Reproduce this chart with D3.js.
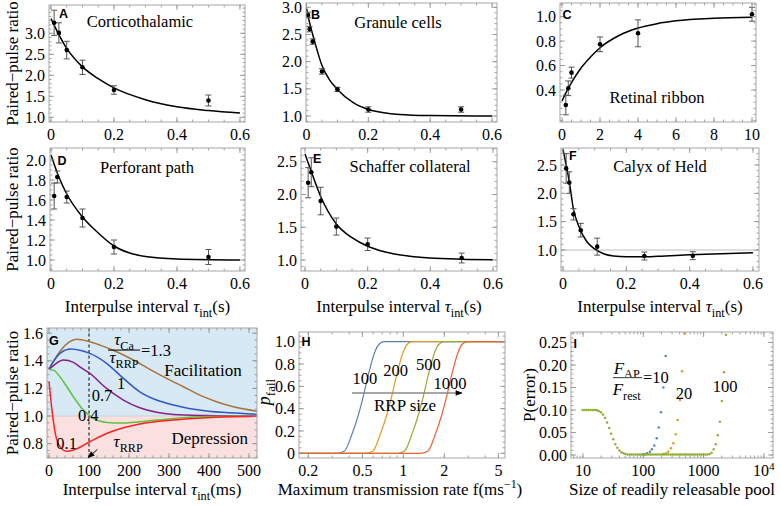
<!DOCTYPE html>
<html><head><meta charset="utf-8">
<script src="https://cdn.jsdelivr.net/npm/d3@7/dist/d3.min.js"></script>
<style>
html,body{margin:0;padding:0;background:#fff;}
svg text{font-family:"Liberation Serif","Times New Roman",serif;fill:#000;}
svg text.pl{font-family:"Liberation Sans",Arial,sans-serif;font-weight:bold;font-size:12.5px;}
</style></head><body>
<script>
// ================= DATA =================
// tick values / labels
const ppXTicks = [0, 0.2, 0.4, 0.6];
const ppXLabels = ["0", "0.2", "0.4", "0.6"];
const aYTicks = [1.0, 1.5, 2.0, 2.5, 3.0];
const bYTicks = [1.0, 1.5, 2.0, 2.5, 3.0];
const cXTicks = [0, 2, 4, 6, 8, 10];
const cYTicks = [0.4, 0.6, 0.8, 1.0];
const dYTicks = [1.0, 1.2, 1.4, 1.6, 1.8, 2.0];
const eYTicks = [1.0, 1.5, 2.0, 2.5];
const fYTicks = [1.0, 1.5, 2.0, 2.5];
const gXTicks = [0, 100, 200, 300, 400, 500];
const gYTicks = [0.8, 1.0, 1.2, 1.4, 1.6];
const hXTicks = [0.2, 0.5, 1, 2, 5];
const hXLabels = ["0.2", "0.5", "1", "2", "5"];
const hYTicks = [0, 0.2, 0.4, 0.6, 0.8, 1.0];
const hYLabels = ["0", "0.2", "0.4", "0.6", "0.8", "1.0"];
const iXTicks = [10, 100, 1000, 10000];
const iXLabels = ["10", "100", "1000", "10^4"];
const iYTicks = [0, 0.05, 0.10, 0.15, 0.20, 0.25];

// A: Corticothalamic
const A_x = [0.01, 0.025, 0.05, 0.1, 0.2, 0.5];
const A_y = [3.25, 3.01, 2.60, 2.19, 1.65, 1.40];
const A_e = [0.3, 0.24, 0.21, 0.17, 0.1, 0.13];
const A_fx = [0, 0.025, 0.05, 0.1, 0.15, 0.2, 0.3, 0.4, 0.5, 0.6];
const A_fy = [3.35, 2.97, 2.64, 2.2, 1.92, 1.70, 1.42, 1.25, 1.16, 1.10];
// B: Granule cells
const B_x = [0.005, 0.01, 0.02, 0.05, 0.1, 0.2, 0.5];
const B_y = [2.86, 2.60, 2.37, 1.82, 1.49, 1.12, 1.12];
const B_e = [0.05, 0.05, 0.05, 0.05, 0.04, 0.05, 0.05];
const B_fx = [0, 0.01, 0.025, 0.05, 0.075, 0.1, 0.15, 0.2, 0.25, 0.3, 0.4, 0.6];
const B_fy = [2.98, 2.72, 2.4, 1.93, 1.66, 1.49, 1.25, 1.12, 1.06, 1.03, 1.01, 1.0];
// C: Retinal ribbon
const C_x = [0.2, 0.33, 0.5, 2, 4, 10];
const C_y = [0.277, 0.414, 0.542, 0.774, 0.864, 1.02];
const C_e = [0.08, 0.06, 0.045, 0.06, 0.11, 0.057];
const C_fx = [0, 0.25, 0.5, 1, 1.5, 2, 3, 4, 5, 6, 8, 10];
const C_fy = [0.31, 0.39, 0.46, 0.58, 0.67, 0.746, 0.846, 0.907, 0.943, 0.966, 0.987, 0.995];
// D: Perforant path
const D_x = [0.01, 0.02, 0.05, 0.1, 0.2, 0.5];
const D_y = [1.64, 1.83, 1.63, 1.42, 1.13, 1.03];
const D_e = [0.13, 0.06, 0.06, 0.09, 0.07, 0.075];
const D_fx = [0, 0.025, 0.05, 0.1, 0.15, 0.2, 0.25, 0.3, 0.4, 0.6];
const D_fy = [2.05, 1.83, 1.66, 1.43, 1.27, 1.14, 1.07, 1.035, 1.01, 1.0];
// E: Schaffer collateral
const E_x = [0.01, 0.02, 0.05, 0.1, 0.2, 0.5];
const E_y = [2.18, 2.34, 1.9, 1.51, 1.24, 1.03];
const E_e = [0.23, 0.22, 0.21, 0.13, 0.095, 0.075];
const E_fx = [0, 0.02, 0.05, 0.1, 0.15, 0.2, 0.25, 0.3, 0.4, 0.5, 0.6];
const E_fy = [2.62, 2.35, 1.97, 1.55, 1.34, 1.21, 1.13, 1.08, 1.03, 1.012, 1.005];
// F: Calyx of Held
const F_x = [0.01, 0.02, 0.033, 0.056, 0.108, 0.257, 0.41];
const F_y = [2.44, 2.19, 1.63, 1.35, 1.06, 0.894, 0.90];
const F_e = [0.26, 0.19, 0.1, 0.12, 0.15, 0.07, 0.07];
const F_fx = [0, 0.01, 0.02, 0.033, 0.05, 0.075, 0.1, 0.13, 0.16, 0.2, 0.25, 0.3, 0.4, 0.5, 0.6];
const F_fy = [2.78, 2.5, 2.2, 1.72, 1.42, 1.15, 1.02, 0.93, 0.895, 0.882, 0.882, 0.89, 0.915, 0.935, 0.95];

// G: model PPR curves (interval in ms), tauCa/tauRRP ratios
const G_ratioLabels = ["1.3", "1", "0.7", "0.4", "0.1"];
const G13_t = [0, 10, 27.5, 50, 69, 100, 127.5, 169, 211, 252, 294, 336, 377, 419, 461, 520];
const G13_v = [1.338, 1.39, 1.47, 1.535, 1.556, 1.54, 1.514, 1.466, 1.406, 1.338, 1.273, 1.212, 1.152, 1.104, 1.067, 1.035];
const G10_t = [0, 10, 30, 54, 80, 102, 144, 186, 227, 269, 311, 394, 477, 520];
const G10_v = [1.338, 1.39, 1.46, 1.486, 1.475, 1.454, 1.382, 1.273, 1.176, 1.116, 1.08, 1.036, 1.02, 1.012];
const G07_t = [0, 15, 36, 61, 80, 102, 144, 186, 227, 269, 311, 394, 520];
const G07_v = [1.338, 1.375, 1.406, 1.389, 1.35, 1.309, 1.2, 1.116, 1.06, 1.027, 1.012, 1.004, 1.0];
const G04_t = [0, 11, 36, 61, 86, 111, 144, 186, 227, 311, 394, 520];
const G04_v = [1.338, 1.333, 1.249, 1.14, 1.043, 0.983, 0.954, 0.950, 0.958, 0.983, 0.997, 1.0];
const G01_t = [0, 7, 15, 27.5, 44, 61, 102, 144, 186, 227, 311, 394, 520];
const G01_v = [1.25, 1.056, 0.886, 0.778, 0.745, 0.754, 0.814, 0.874, 0.915, 0.942, 0.971, 0.988, 0.998];
const G_tauRRP = 100;

// H: failure probability vs max transmission rate (ms^-1), RRP sizes
const H_sizes = ["100", "200", "500", "1000"];
const H_f100 = [0.171, 0.33, 0.37, 0.417, 0.467, 0.507, 0.552, 0.618, 0.66, 0.72, 5.59];
const H_f200 = [0.171, 0.534, 0.599, 0.674, 0.755, 0.82, 0.893, 1.0, 1.066, 1.164, 5.59];
const H_f500 = [0.171, 0.911, 1.022, 1.151, 1.289, 1.40, 1.525, 1.707, 1.82, 1.99, 5.59];
const H_f1000 = [0.171, 1.354, 1.518, 1.71, 1.916, 2.08, 2.265, 2.535, 2.70, 2.95, 5.59];
const H_p = [0, 0, 0.02, 0.164, 0.343, 0.507, 0.70, 0.91, 0.975, 1, 1];

// I: P(error) vs RRP size, F_AP/F_rest = 10, 20, 100
const I_N10 = [100, 107, 116, 129, 139, 152, 167, 180, 197, 215, 235];
const I_P10 = [0.001, 0.0015, 0.004, 0.007, 0.013, 0.021, 0.037, 0.061, 0.095, 0.15, 0.22];
const I_N20 = [215, 238, 260, 288, 315, 345, 372, 406, 439, 479];
const I_P20 = [0.002, 0.004, 0.007, 0.015, 0.026, 0.046, 0.078, 0.122, 0.186, 0.27];
const I_N100 = [9.8, 10.6, 11.5, 12.4, 13.4, 14.5, 15.7, 16.9, 18.3, 19.8, 21.4, 23.2, 25.1, 27.1, 29.3, 31.7, 34.3, 37.1, 40.1, 43.4,
  46.9, 50.7, 54.8, 59.3, 64.1, 69.3, 75.0, 81.1, 87.7, 94.8, 103, 111, 120, 130, 140, 152, 164, 177, 192, 207,
  224, 243, 262, 284, 307, 332, 359, 388, 420, 454, 491, 531, 574, 621, 671, 726, 785, 849, 918, 993,
  1074, 1161, 1256, 1358, 1469, 1588, 1718, 1858, 2009, 2173, 2350];
const I_P100 = [0.1, 0.1, 0.1, 0.1, 0.1, 0.1, 0.1, 0.0995, 0.098, 0.095, 0.09, 0.082, 0.072, 0.06, 0.047, 0.035, 0.024, 0.016, 0.01, 0.006,
  0.004, 0.002, 0.001, 0.001, 0.001, 0.001, 0.001, 0.001, 0.001, 0.001, 0.001, 0.001, 0.001, 0.001, 0.001, 0.001, 0.001, 0.001, 0.001, 0.001,
  0.001, 0.001, 0.001, 0.001, 0.001, 0.001, 0.001, 0.001, 0.001, 0.001, 0.001, 0.001, 0.001, 0.001, 0.001, 0.001, 0.001, 0.001, 0.001, 0.001,
  0.001, 0.001, 0.002, 0.005, 0.013, 0.024, 0.044, 0.074, 0.12, 0.184, 0.267];
const I_ratioLabels = ["10", "20", "100"];

// ================= DRAWING =================
const svg = d3.select("body").append("svg").attr("width", 781).attr("height", 506).style("display", "block")
  .attr("font-family", "'Liberation Serif','Times New Roman',serif");
const defs = svg.append("defs");
defs.append("marker").attr("id", "ah").attr("viewBox", "0 0 10 10").attr("refX", 9).attr("refY", 5)
  .attr("markerWidth", 8).attr("markerHeight", 7).attr("markerUnits", "userSpaceOnUse").attr("orient", "auto")
  .append("path").attr("d", "M0,1 L10,5 L0,9 Z").attr("fill", "#000");

let clipN = 0;
function makePanel(f, xd, yd, xlog) {
  const x = (xlog ? d3.scaleLog() : d3.scaleLinear()).domain(xd).range([f[0], f[1]]);
  const y = d3.scaleLinear().domain(yd).range([f[3], f[2]]);
  const id = "cp" + (clipN++);
  defs.append("clipPath").attr("id", id).append("rect")
    .attr("x", f[0]).attr("y", f[2]).attr("width", f[1] - f[0]).attr("height", f[3] - f[2]);
  const g = svg.append("g");
  const plot = g.append("g").attr("clip-path", `url(#${id})`);
  return { x, y, g, plot, f, xd, yd };
}

function rich(parent, x, y, parts, size, anchor, rot) {
  const t = parent.append("text").attr("x", x).attr("y", y).attr("font-size", size)
    .attr("text-anchor", anchor || "middle");
  if (rot) t.attr("transform", `rotate(-90,${x},${y})`);
  let cur = 0;
  parts.forEach(pt => {
    const [s, st] = typeof pt === "string" ? [pt, ""] : pt;
    let off = 0, fs = size;
    if (st.includes("sub")) { off = size * 0.28; fs = size * 0.72; }
    else if (st.includes("sup")) { off = -size * 0.4; fs = size * 0.7; }
    const ts = t.append("tspan").text(s).attr("font-size", fs).attr("dy", off - cur);
    if (st.startsWith("i")) ts.attr("font-style", "italic");
    cur = off;
  });
  return t;
}

function linMinor(d, step) {
  const a = [];
  for (let k = Math.ceil(d[0] / step - 1e-9); k * step <= d[1] + 1e-9; k++) a.push(k * step);
  return a;
}
function logMinor(d) {
  const a = [];
  for (let e = Math.floor(Math.log10(d[0])); e <= Math.ceil(Math.log10(d[1])); e++)
    for (let m = 1; m < 10; m++) { const v = m * Math.pow(10, e); if (v >= d[0] && v <= d[1]) a.push(v); }
  return a;
}

const FS = 16;
function frame(p, xv, xl, yv, yl, xmin, ymin) {
  const { x, y, g, f } = p;
  const fr = g.append("g");
  const tc = "#8c8c8c";
  const tick = (x1, y1, x2, y2) => fr.append("line").attr("x1", x1).attr("y1", y1).attr("x2", x2).attr("y2", y2)
    .attr("stroke", tc).attr("stroke-width", 0.8);
  xmin.forEach(v => { const px = x(v); if (px < f[0] || px > f[1]) return; tick(px, f[3], px, f[3] - 2.5); tick(px, f[2], px, f[2] + 2.5); });
  ymin.forEach(v => { const py = y(v); if (py < f[2] || py > f[3]) return; tick(f[0], py, f[0] + 2.5, py); tick(f[1], py, f[1] - 2.5, py); });
  xv.forEach((v, i) => {
    const px = x(v);
    tick(px, f[3], px, f[3] - 5); tick(px, f[2], px, f[2] + 5);
    const s = xl[i];
    if (s.includes("^")) { const [b, e] = s.split("^"); rich(fr, px, f[3] + 18, [b, [e, "sup"]], FS, "middle"); }
    else fr.append("text").attr("x", px).attr("y", f[3] + 18).attr("text-anchor", "middle").attr("font-size", FS).text(s);
  });
  yv.forEach((v, i) => {
    const py = y(v);
    tick(f[0], py, f[0] + 5, py); tick(f[1], py, f[1] - 5, py);
    fr.append("text").attr("x", f[0] - 4).attr("y", py).attr("dy", "0.35em").attr("text-anchor", "end")
      .attr("font-size", FS).text(yl[i]);
  });
  fr.append("rect").attr("x", f[0]).attr("y", f[2]).attr("width", f[1] - f[0]).attr("height", f[3] - f[2])
    .attr("fill", "none").attr("stroke", "#a6a6a6").attr("stroke-width", 1);
}

function fitLine(p, xs, ys, color, w) {
  p.plot.append("path").datum(xs.map((v, i) => [v, ys[i]]))
    .attr("d", d3.line().x(d => p.x(d[0])).y(d => p.y(d[1])).curve(d3.curveMonotoneX))
    .attr("fill", "none").attr("stroke", color).attr("stroke-width", w).attr("stroke-linejoin", "round");
}
function errPts(p, xs, ys, es) {
  const gg = p.plot.append("g");
  xs.forEach((v, i) => {
    const px = p.x(v), y1 = p.y(ys[i] + es[i]), y2 = p.y(ys[i] - es[i]);
    gg.append("line").attr("x1", px).attr("x2", px).attr("y1", y1).attr("y2", y2).attr("stroke", "#555").attr("stroke-width", 1);
    [y1, y2].forEach(yy => gg.append("line").attr("x1", px - 3).attr("x2", px + 3).attr("y1", yy).attr("y2", yy).attr("stroke", "#555").attr("stroke-width", 1));
  });
  gg.selectAll("circle").data(xs).join("circle").attr("cx", d => p.x(d)).attr("cy", (d, i) => p.y(ys[i])).attr("r", 2.3).attr("fill", "#000");
}
function ftext(p, dx, dy, s, size, anchor) {
  return p.g.append("text").attr("x", p.f[0] + dx).attr("y", p.f[2] + dy).attr("font-size", size || 16.5)
    .attr("text-anchor", anchor || "middle").text(s);
}
function letter(p, dx, dy, s) {
  p.g.append("text").attr("class", "pl").attr("x", p.f[0] + dx).attr("y", p.f[2] + dy).text(s);
}
const fmt1 = d3.format(".1f"), fmt2 = d3.format(".2f");

// ---------- Row 1 ----------
const pA = makePanel([49, 245, 5, 122], [-0.0063, 0.616], [0.888, 3.674]);
fitLine(pA, A_fx, A_fy, "#000", 1.5); errPts(pA, A_x, A_y, A_e);
frame(pA, ppXTicks, ppXLabels, aYTicks, aYTicks.map(fmt1), linMinor(pA.xd, 0.05), linMinor(pA.yd, 0.1));
ftext(pA, 91, 22, "Corticothalamic"); letter(pA, 10, 13, "A");

const pB = makePanel([306, 497, 3, 122], [-0.0016, 0.616], [0.89, 3.08]);
fitLine(pB, B_fx, B_fy, "#000", 1.5); errPts(pB, B_x, B_y, B_e);
frame(pB, ppXTicks, ppXLabels, bYTicks, bYTicks.map(fmt1), linMinor(pB.xd, 0.05), linMinor(pB.yd, 0.1));
ftext(pB, 92, 25, "Granule cells"); letter(pB, 5, 15.5, "B");

const pC = makePanel([560, 756, 3, 122], [-0.106, 10.21], [0.138, 1.112]);
fitLine(pC, C_fx, C_fy, "#000", 1.5); errPts(pC, C_x, C_y, C_e);
frame(pC, cXTicks, cXTicks.map(String), cYTicks, cYTicks.map(fmt1), linMinor(pC.xd, 0.5), linMinor(pC.yd, 0.05));
ftext(pC, 97, 100, "Retinal ribbon"); letter(pC, 2.5, 15.5, "C");

// ---------- Row 2 ----------
const pD = makePanel([50, 245, 148, 271], [-0.0032, 0.616], [0.89, 2.12]);
fitLine(pD, D_fx, D_fy, "#000", 1.5); errPts(pD, D_x, D_y, D_e);
frame(pD, ppXTicks, ppXLabels, dYTicks, dYTicks.map(fmt1), linMinor(pD.xd, 0.05), linMinor(pD.yd, 0.05));
ftext(pD, 97, 25, "Perforant path"); letter(pD, 7.5, 16.5, "D");

const pE = makePanel([301, 497, 148, 271], [-0.0128, 0.6128], [0.832, 2.71]);
fitLine(pE, E_fx, E_fy, "#000", 1.5); errPts(pE, E_x, E_y, E_e);
frame(pE, ppXTicks, ppXLabels, eYTicks, eYTicks.map(fmt1), linMinor(pE.xd, 0.05), linMinor(pE.yd, 0.1));
ftext(pE, 109, 24, "Schaffer collateral"); letter(pE, 12, 15, "E");

const pF = makePanel([561, 759, 148, 271], [-0.0063, 0.619], [0.63, 2.80]);
pF.plot.append("line").attr("x1", pF.f[0]).attr("x2", pF.f[1]).attr("y1", pF.y(1)).attr("y2", pF.y(1))
  .attr("stroke", "#bdbdbd").attr("stroke-width", 1);
fitLine(pF, F_fx, F_fy, "#000", 1.5); errPts(pF, F_x, F_y, F_e);
frame(pF, ppXTicks, ppXLabels, fYTicks, fYTicks.map(fmt1), linMinor(pF.xd, 0.05), linMinor(pF.yd, 0.1));
ftext(pF, 99, 24, "Calyx of Held"); letter(pF, 8, 11.5, "F");

[pD, pE, pF].forEach(p => rich(svg, (p.f[0] + p.f[1]) / 2, 312,
  ["Interpulse interval ", ["τ", "i"], ["int", "sub"], ["(s)", ""]], 17, "middle"));

// Y titles
[[pA, 18], [pD, 18]].forEach(([p, xx]) => rich(svg, xx, (p.f[2] + p.f[3]) / 2, ["Paired−pulse ratio"], 17, "middle", true));

// ---------- Row 3: G ----------
const pG = makePanel([47, 257, 328, 458], [-5, 520], [0.696, 1.638]);
pG.plot.append("rect").attr("x", pG.f[0]).attr("y", pG.f[2]).attr("width", pG.f[1] - pG.f[0]).attr("height", pG.y(1) - pG.f[2]).attr("fill", "#d6e9f5");
pG.plot.append("rect").attr("x", pG.f[0]).attr("y", pG.y(1)).attr("width", pG.f[1] - pG.f[0]).attr("height", pG.f[3] - pG.y(1)).attr("fill", "#fbe0e0");
pG.plot.append("line").attr("x1", pG.f[0]).attr("x2", pG.f[1]).attr("y1", pG.y(1)).attr("y2", pG.y(1)).attr("stroke", "#cfcfcf").attr("stroke-width", 1);
pG.plot.append("line").attr("x1", pG.x(G_tauRRP)).attr("x2", pG.x(G_tauRRP)).attr("y1", pG.f[2]).attr("y2", pG.f[3])
  .attr("stroke", "#000").attr("stroke-width", 1).attr("stroke-dasharray", "3,2.5");
fitLine(pG, G13_t, G13_v, "#a8733a", 1.5);
fitLine(pG, G10_t, G10_v, "#3556c4", 1.5);
fitLine(pG, G07_t, G07_v, "#86208a", 1.5);
fitLine(pG, G04_t, G04_v, "#5fc13c", 1.5);
fitLine(pG, G01_t, G01_v, "#ff2020", 1.5);
frame(pG, gXTicks, gXTicks.map(String), gYTicks, gYTicks.map(fmt1), linMinor(pG.xd, 20), linMinor(pG.yd, 0.05));
letter(pG, 2, 16.5, "G");
{
  const gx = pG.x, gy = pG.y;
  rich(pG.g, gx(187.5), gy(1.514), [["τ", "i"], ["Ca", "sub"]], 17, "middle");
  pG.g.append("line").attr("x1", gx(147.5)).attr("x2", gx(227.5)).attr("y1", gy(1.478)).attr("y2", gy(1.478)).attr("stroke", "#000").attr("stroke-width", 1);
  rich(pG.g, gx(187.5), gy(1.384), [["τ", "i"], ["RRP", "sub"]], 17, "middle");
  pG.g.append("text").attr("x", gx(230)).attr("y", gy(1.435)).attr("font-size", 16.5).text("=" + G_ratioLabels[0]);
  pG.g.append("text").attr("x", gx(385)).attr("y", gy(1.29)).attr("font-size", 17).attr("text-anchor", "middle").text("Facilitation");
  pG.g.append("text").attr("x", gx(180)).attr("y", gy(1.199)).attr("font-size", 16.5).attr("text-anchor", "middle").text(G_ratioLabels[1]);
  pG.g.append("text").attr("x", gx(132.5)).attr("y", gy(1.112)).attr("font-size", 16.5).attr("text-anchor", "middle").text(G_ratioLabels[2]);
  pG.g.append("text").attr("x", gx(98)).attr("y", gy(0.964)).attr("font-size", 16.5).attr("text-anchor", "middle").text(G_ratioLabels[3]);
  pG.g.append("text").attr("x", gx(44)).attr("y", gy(0.761)).attr("font-size", 16.5).attr("text-anchor", "middle").text(G_ratioLabels[4]);
  rich(pG.g, gx(198), gy(0.775), [["τ", "i"], ["RRP", "sub"]], 17, "middle");
  pG.g.append("text").attr("x", gx(402)).attr("y", gy(0.797)).attr("font-size", 17).attr("text-anchor", "middle").text("Depression");
  pG.g.append("line").attr("x1", gx(121)).attr("y1", gy(0.758)).attr("x2", gx(G_tauRRP - 2)).attr("y2", gy(0.699))
    .attr("stroke", "#000").attr("stroke-width", 1).attr("marker-end", "url(#ah)");
}
rich(svg, (pG.f[0] + pG.f[1]) / 2, 495, ["Interpulse interval ", ["τ", "i"], ["int", "sub"], ["(ms)", ""]], 17, "middle");
rich(svg, 18, (pG.f[2] + pG.f[3]) / 2, ["Paired−pulse ratio"], 17, "middle", true);

// ---------- H ----------
const pH = makePanel([299, 505, 332, 458], [0.171, 5.59], [-0.042, 1.087], true);
fitLine(pH, H_f100, H_p, "#5e81b5", 1.2);
fitLine(pH, H_f200, H_p, "#e19c24", 1.2);
fitLine(pH, H_f500, H_p, "#8fb032", 1.2);
fitLine(pH, H_f1000, H_p, "#eb6235", 1.2);
frame(pH, hXTicks, hXLabels, hYTicks, hYLabels, logMinor(pH.xd), linMinor(pH.yd, 0.05));
letter(pH, 2.5, 14, "H");
{
  const hx = pH.x, hy = pH.y;
  [[0.522, 0.623], [0.878, 0.697], [1.526, 0.748], [2.206, 0.578]].forEach((c, i) =>
    pH.g.append("text").attr("x", hx(c[0])).attr("y", hy(c[1])).attr("font-size", 16.5).attr("text-anchor", "middle").text(H_sizes[i]));
  pH.g.append("line").attr("x1", hx(0.419)).attr("x2", hx(2.70)).attr("y1", hy(0.54)).attr("y2", hy(0.54))
    .attr("stroke", "#8a8a8a").attr("stroke-width", 1.6).attr("marker-end", "url(#ah)");
  pH.g.append("text").attr("x", hx(1.03)).attr("y", hy(0.383)).attr("font-size", 17).attr("text-anchor", "middle").text("RRP size");
}
rich(svg, 400, 495, ["Maximum transmission rate f(ms", ["−1", "sup"], [")", ""]], 17, "middle");
rich(svg, 270, (pH.f[2] + pH.f[3]) / 2 - 3, [["p", "i"], ["fail", "sub"]], 18, "middle", true);

// ---------- I ----------
const pI = makePanel([571, 773, 332, 458], [6.32, 14160], [-0.0067, 0.2733], true);
function dots(p, xs, ys, color) {
  p.plot.append("g").selectAll("circle").data(xs).join("circle")
    .attr("cx", d => p.x(d)).attr("cy", (d, i) => p.y(ys[i])).attr("r", 1.25).attr("fill", color);
}
dots(pI, I_N10, I_P10, "#5e81b5");
dots(pI, I_N20, I_P20, "#e19c24");
dots(pI, I_N100, I_P100, "#8fb032");
frame(pI, iXTicks, iXLabels, iYTicks, iYTicks.map(fmt2), logMinor(pI.xd), linMinor(pI.yd, 0.01));
letter(pI, 2.5, 16, "I");
{
  const ix = pI.x, iy = pI.y;
  rich(pI.g, ix(53.1), iy(0.181), [["F", "i"], ["AP", "sub"]], 17, "middle");
  pI.g.append("line").attr("x1", ix(31.4)).attr("x2", ix(95.1)).attr("y1", iy(0.172)).attr("y2", iy(0.172)).attr("stroke", "#555").attr("stroke-width", 1.2);
  rich(pI.g, ix(53.1), iy(0.133), [["F", "i"], ["rest", "sub"]], 17, "middle");
  pI.g.append("text").attr("x", ix(99)).attr("y", iy(0.16)).attr("font-size", 16.5).text("=" + I_ratioLabels[0]);
  pI.g.append("text").attr("x", ix(473)).attr("y", iy(0.124)).attr("font-size", 16.5).attr("text-anchor", "middle").text(I_ratioLabels[1]);
  pI.g.append("text").attr("x", ix(2265)).attr("y", iy(0.14)).attr("font-size", 16.5).attr("text-anchor", "middle").text(I_ratioLabels[2]);
}
rich(svg, 672, 495, ["Size of readily releasable pool"], 17, "middle");
rich(svg, 535, (pI.f[2] + pI.f[3]) / 2, ["P(error)"], 17, "middle", true);
</script>
</body></html>
